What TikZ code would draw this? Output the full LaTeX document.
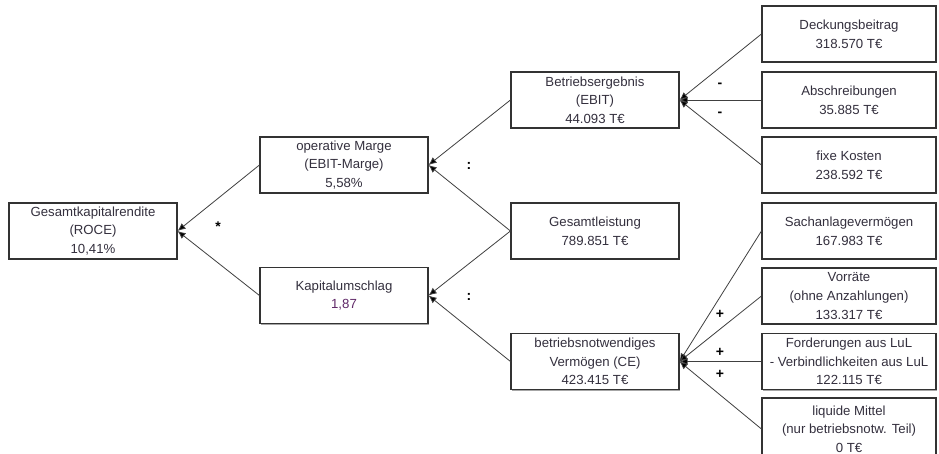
\documentclass[tikz,border=0pt]{standalone}
\usepackage{fontspec}
\setmainfont{Liberation Sans}
\usetikzlibrary{arrows.meta,shadows}
\definecolor{txt}{RGB}{52,48,62}
\definecolor{numpurple}{RGB}{96,40,104}
\definecolor{edge}{RGB}{64,64,64}
\tikzset{
  kbox/.style={draw=black!80, line width=1.1pt, fill=white, align=center, inner sep=0pt,
    minimum height=56pt, text=txt,
    font=\fontsize{13.2pt}{18.6pt}\selectfont,
    drop shadow={shadow xshift=1.4pt, shadow yshift=-1.4pt, fill=black!35, opacity=1}},
  nbox/.style={kbox, minimum width=168pt},
  wbox/.style={kbox, minimum width=174pt},
  link/.style={draw=edge, line width=0.8pt, -{Latex[length=8pt,width=7pt,fill=black]}},
  opsign/.style={font=\fontsize{14pt}{14pt}\selectfont\bfseries, text=black, inner sep=0pt}
}
\begin{document}
\begin{tikzpicture}[x=1pt,y=-1pt]
\useasboundingbox[fill=white] (0,0) rectangle (939,454);

% level 0
\node[nbox] (roce) at (93,231) {Gesamtkapitalrendite\\(ROCE)\\10,41\%};
% level 1
\node[nbox] (marge) at (344,165) {operative Marge\\(EBIT-Marge)\\5,58\%};
\node[nbox] (kapu) at (344,295.5) {Kapitalumschlag\\{\color{numpurple}1,87}};
% level 2
\node[nbox] (ebit) at (595,100) {Betriebsergebnis\\(EBIT)\\44.093 T€};
\node[nbox] (gl) at (595,231) {Gesamtleistung\\789.851 T€};
\node[nbox] (ce) at (595,361.5) {betriebsnotwendiges\\Vermögen (CE)\\423.415 T€};
% level 3
\node[wbox] (db) at (849,34) {Deckungsbeitrag\\318.570 T€};
\node[wbox] (ab) at (849,100) {Abschreibungen\\35.885 T€};
\node[wbox] (fk) at (849,165) {fixe Kosten\\238.592 T€};
\node[wbox] (sa) at (849,231) {Sachanlagevermögen\\167.983 T€};
\node[wbox] (vo) at (849,296) {Vorräte\\(ohne Anzahlungen)\\133.317 T€};
\node[wbox] (fo) at (849,361.5) {Forderungen aus LuL\\- Verbindlichkeiten aus LuL\\122.115 T€};
\node[wbox, minimum height=62pt] (lm) at (849,429) {liquide Mittel\\(nur betriebsnotw. Teil)\\0 T€};

% connectors, arrow tips at the aggregated figure
\draw[link] (marge.west) -- (roce.east);
\draw[link] (kapu.west) -- (roce.east);
\draw[link] (ebit.west) -- (marge.east);
\draw[link] (gl.west) -- (marge.east);
\draw[link] (gl.west) -- (kapu.east);
\draw[link] (ce.west) -- (kapu.east);
\draw[link] (db.west) -- (ebit.east);
\draw[link] (ab.west) -- (ebit.east);
\draw[link] (fk.west) -- (ebit.east);
\draw[link] (sa.west) -- (ce.east);
\draw[link] (vo.west) -- (ce.east);
\draw[link] (fo.west) -- (ce.east);
\draw[link] (lm.west) -- (ce.east);

% operators
\node[opsign] (opmul) at (218,227) {*};
\node[opsign] (opdiv1) at (469,166) {:};
\node[opsign] (opdiv2) at (469,297) {:};
\node[opsign] (opminus1) at (720,85) {-};
\node[opsign] (opminus2) at (720,114) {-};
\node[opsign] (opplus1) at (720,314) {+};
\node[opsign] (opplus2) at (720,352) {+};
\node[opsign] (opplus3) at (720,374) {+};
\end{tikzpicture}
\end{document}
